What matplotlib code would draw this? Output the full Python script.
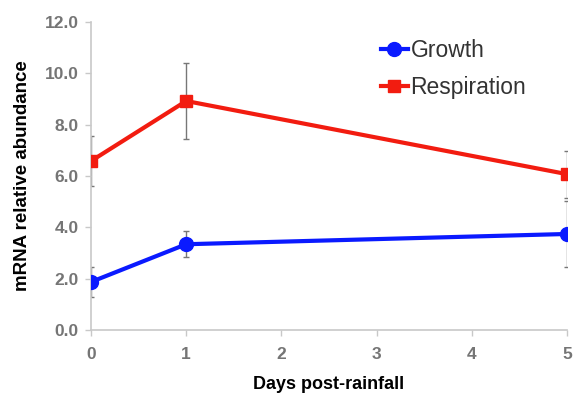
import matplotlib.pyplot as plt

days = [0, 1, 5]
growth = [1.87, 3.34, 3.74]
growth_err = [0.58, 0.50, 1.27]
respiration = [6.58, 8.92, 6.07]
respiration_err = [0.98, 1.48, 0.92]

plt.rcParams['font.family'] = ['Liberation Sans', 'DejaVu Sans']

fig = plt.figure(figsize=(5.74, 3.99), dpi=100)
ax = fig.add_axes([0.1585, 0.173, 0.8295, 0.772])

ax.errorbar(days, growth, yerr=growth_err, fmt='none', ecolor='#777777',
            elinewidth=1, capsize=2, zorder=1)
ax.errorbar(days, respiration, yerr=respiration_err, fmt='none', ecolor='#777777',
            elinewidth=1, capsize=2, zorder=1)
ax.plot(days, growth, color='#0a1aff', lw=3, marker='o', ms=10,
        label='Growth', zorder=3)
ax.plot(days, respiration, color='#f21c10', lw=3, marker='s', ms=9,
        label='Respiration', zorder=3)

ax.set_xlim(0, 5)
ax.set_ylim(0, 12)
ax.set_xticks(range(6))
ax.set_yticks([0, 2, 4, 6, 8, 10, 12])
ax.set_yticklabels([f'{v:.1f}' for v in [0, 2, 4, 6, 8, 10, 12]])

for s in ['top', 'right']:
    ax.spines[s].set_visible(False)
for s in ['left', 'bottom']:
    ax.spines[s].set_color('#c8c8c8')
    ax.spines[s].set_linewidth(1.2)
ax.tick_params(colors='#c8c8c8', length=4, width=1, direction='out')
for lab in ax.get_xticklabels() + ax.get_yticklabels():
    lab.set_color('#757575')
    lab.set_fontweight('bold')
    lab.set_fontsize(12.5)
ax.tick_params(axis='x', pad=8)
ax.tick_params(axis='y', pad=5)

ax.set_xlabel('Days post-rainfall', fontsize=13, fontweight='bold', labelpad=10)
ax.set_ylabel('mRNA relative abundance', fontsize=13.5, fontweight='bold', labelpad=10)

leg = ax.legend(loc='upper left', bbox_to_anchor=(0.565, 1.01), frameon=False,
                fontsize=16.5, handlelength=1.2, handletextpad=0.1, labelspacing=0.6)
for t in leg.get_texts():
    t.set_color('#333333')

fig.savefig('out.png', dpi=100)
